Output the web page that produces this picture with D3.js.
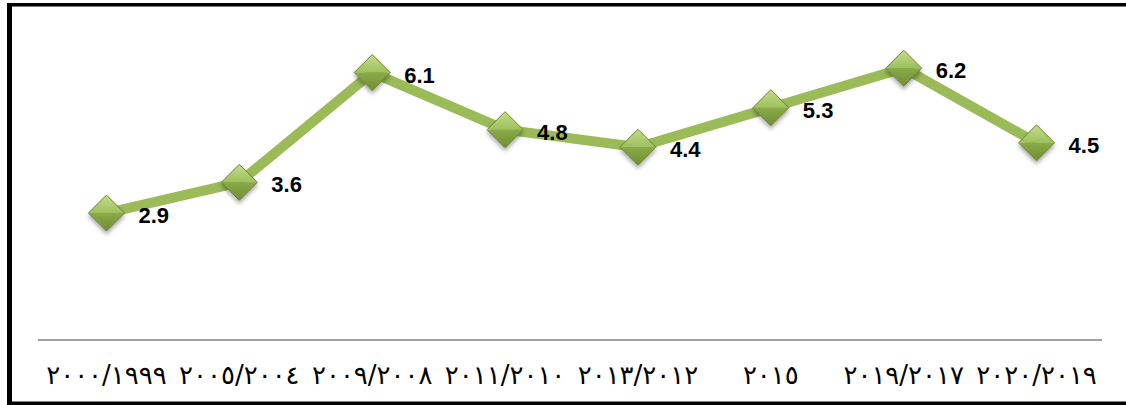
<!DOCTYPE html>
<html>
<head>
<meta charset="utf-8">
<script src="https://cdn.jsdelivr.net/npm/d3@7"></script>
<style>
  html, body { margin: 0; padding: 0; background: #fff; }
  svg { display: block; }
</style>
</head>
<body>
<svg id="chart" width="1126" height="405"></svg>
<script>
// Period labels (Arabic-Indic digits) and the matching values
const periods = ["٢٠٠٠/١٩٩٩", "٢٠٠٥/٢٠٠٤", "٢٠٠٩/٢٠٠٨", "٢٠١١/٢٠١٠", "٢٠١٣/٢٠١٢", "٢٠١٥", "٢٠١٩/٢٠١٧", "٢٠٢٠/٢٠١٩"];
const values = [2.9, 3.6, 6.1, 4.8, 4.4, 5.3, 6.2, 4.5];

const W = 1126, H = 405;
const svg = d3.select("#chart");

const defs = svg.append("defs");
const upper = defs.append("linearGradient").attr("id", "gUpper")
  .attr("x1", 0).attr("y1", 0).attr("x2", 0).attr("y2", 1);
upper.append("stop").attr("offset", "0%").attr("stop-color", "#c3dc8a");
upper.append("stop").attr("offset", "100%").attr("stop-color", "#9dc05c");
const lower = defs.append("linearGradient").attr("id", "gLower")
  .attr("x1", 0).attr("y1", 0).attr("x2", 0).attr("y2", 1);
lower.append("stop").attr("offset", "0%").attr("stop-color", "#8aab48");
lower.append("stop").attr("offset", "100%").attr("stop-color", "#6f8c34");
const shadow = defs.append("filter").attr("id", "shadow")
  .attr("x", "-50%").attr("y", "-50%").attr("width", "200%").attr("height", "200%");
shadow.append("feDropShadow").attr("dx", 0).attr("dy", 3).attr("stdDeviation", 2)
  .attr("flood-color", "#000").attr("flood-opacity", 0.35);

// Frame
svg.append("rect").attr("x", 7).attr("y", 3).attr("width", 5).attr("height", H - 3).attr("fill", "#000");
svg.append("rect").attr("x", 7).attr("y", 3).attr("width", W - 7).attr("height", 3.5).attr("fill", "#000");
svg.append("rect").attr("x", 7).attr("y", 401.5).attr("width", W - 7).attr("height", 3.5).attr("fill", "#000");

const x = d3.scaleBand().domain(periods).range([40, 1103]);
const y = d3.scaleLinear().domain([0, 7]).range([340.4, 33.1]);

// Category axis
const xAxis = svg.append("g").attr("transform", "translate(0,340)")
  .call(d3.axisBottom(x).tickSize(0).tickPadding(0));
xAxis.select(".domain").attr("stroke", "#a0a0a0").attr("stroke-width", 2)
  .attr("d", `M38,0H1102`);
xAxis.selectAll(".tick text")
  .attr("y", 44)
  .attr("dy", 0)
  .attr("fill", "#000")
  .style("font-family", "'DejaVu Sans', sans-serif")
  .style("font-size", "26px");

const cx = d => x(d.p) + x.bandwidth() / 2;
const data = periods.map((p, i) => ({ p, v: values[i] }));

// Series line
svg.append("path").datum(data)
  .attr("fill", "none")
  .attr("stroke", "#9bbb59")
  .attr("stroke-width", 10)
  .attr("stroke-linejoin", "miter")
  .attr("d", d3.line().x(cx).y(d => y(d.v)));

// Diamond markers
const r = 18;
const m = svg.append("g").selectAll("g").data(data).join("g")
  .attr("transform", d => `translate(${cx(d)},${y(d.v)})`)
  .attr("filter", "url(#shadow)");
m.append("path").attr("d", `M${-r},0L0,${-r}L${r},0Z`).attr("fill", "url(#gUpper)");
m.append("path").attr("d", `M${-r},0L0,${r}L${r},0Z`).attr("fill", "url(#gLower)");
m.append("path").attr("d", `M${-r},0L0,${-r}L${r},0L0,${r}Z`)
  .attr("fill", "none").attr("stroke", "#6b8a2f").attr("stroke-width", 1);

// Value labels
svg.append("g").selectAll("text").data(data).join("text")
  .attr("x", d => cx(d) + 32)
  .attr("y", d => y(d.v) + 10)
  .attr("fill", "#000")
  .style("font-family", "'Liberation Sans', Arial, sans-serif")
  .style("font-weight", "bold")
  .style("font-size", "22px")
  .text(d => d3.format(".1f")(d.v));
</script>
</body>
</html>
